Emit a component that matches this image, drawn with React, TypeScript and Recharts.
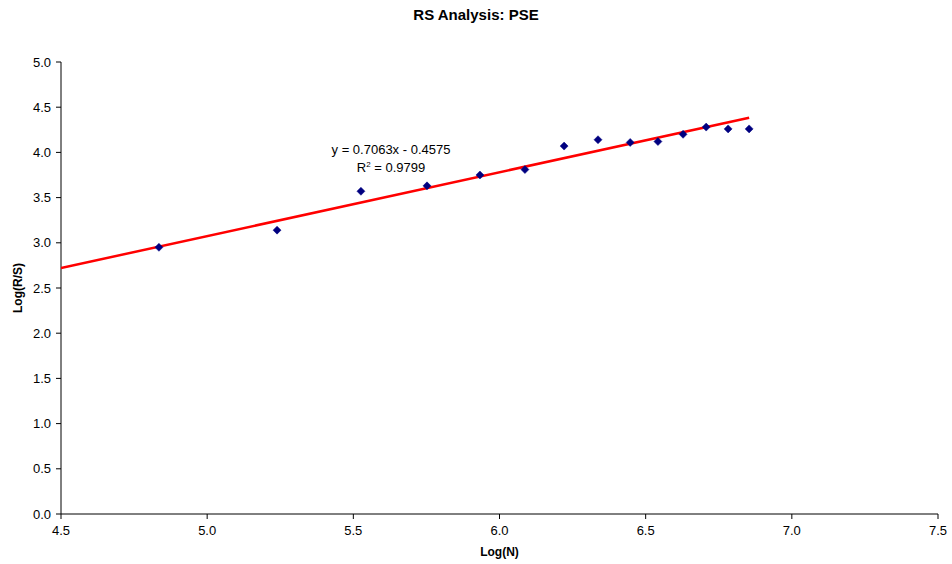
import { ScatterChart, Scatter, XAxis, YAxis, Label } from "recharts";

// Observed (Log(N), Log(R/S)) pairs
const logN = [4.835, 5.239, 5.526, 5.752, 5.933, 6.087, 6.221, 6.337, 6.447, 6.542, 6.628, 6.707, 6.782, 6.854];
const logRS = [2.95, 3.14, 3.57, 3.63, 3.75, 3.81, 4.07, 4.14, 4.11, 4.12, 4.2, 4.28, 4.26, 4.26];

// Trend line end points as drawn
const trendX = [4.5, 6.854];
const trendY = [2.721, 4.384];

const xTicks = [4.5, 5.0, 5.5, 6.0, 6.5, 7.0, 7.5];
const yTicks = [0, 0.5, 1.0, 1.5, 2.0, 2.5, 3.0, 3.5, 4.0, 4.5, 5.0];

const points = logN.map((x, i) => ({ x, y: logRS[i] }));
const trend = trendX.map((x, i) => ({ x, y: trendY[i] }));

const font = "'Liberation Sans', Arial, sans-serif";

const Diamond = (props: any) => {
  const { cx, cy } = props;
  if (cx == null || cy == null) return null;
  const r = 4;
  return (
    <polygon
      points={`${cx},${cy - r} ${cx + r},${cy} ${cx},${cy + r} ${cx - r},${cy}`}
      fill="#000080"
      stroke="#000080"
      strokeWidth={0.5}
    />
  );
};

export default function App() {
  return (
    <div style={{ position: "absolute", left: 0, top: 0, width: 952, height: 564, background: "#fff", fontFamily: font }}>
      <div style={{ position: "absolute", top: 6, width: 952, textAlign: "center", fontWeight: "bold", fontSize: 15, color: "#000" }}>
        RS Analysis: PSE
      </div>
      <ScatterChart width={952} height={564} margin={{ top: 62, right: 14, bottom: 20, left: 0 }}>
        <XAxis
          type="number"
          dataKey="x"
          domain={[4.5, 7.5]}
          ticks={xTicks}
          tickFormatter={(v: number) => v.toFixed(1)}
          height={30}
          stroke="#000"
          tick={{ fill: "#000", fontSize: 13, fontFamily: font }}
          tickSize={5}
          tickMargin={7}
          allowDataOverflow
        >
          <Label value="Log(N)" position="insideBottom" offset={-12} style={{ fontWeight: "bold", fontSize: 12, fill: "#000", fontFamily: font }} />
        </XAxis>
        <YAxis
          type="number"
          dataKey="y"
          domain={[0, 5]}
          ticks={yTicks}
          tickFormatter={(v: number) => v.toFixed(1)}
          width={61}
          stroke="#000"
          tick={{ fill: "#000", fontSize: 13, fontFamily: font }}
          tickSize={5}
          tickMargin={5}
          allowDataOverflow
        >
          <Label value="Log(R/S)" angle={-90} position="insideLeft" offset={18} style={{ fontWeight: "bold", fontSize: 12, fill: "#000", fontFamily: font, textAnchor: "middle" }} />
        </YAxis>
        <Scatter
          data={trend}
          line={{ stroke: "#FF0000", strokeWidth: 2.5 }}
          shape={() => null}
          isAnimationActive={false}
        />
        <Scatter data={points} shape={Diamond} isAnimationActive={false} />
      </ScatterChart>
      <div style={{ position: "absolute", left: 291, top: 141, width: 200, textAlign: "center", fontSize: 13, color: "#000", lineHeight: "18px" }}>
        <div>y = 0.7063x - 0.4575</div>
        <div>
          R<sup style={{ fontSize: 8, verticalAlign: "top", lineHeight: "12px" }}>2</sup> = 0.9799
        </div>
      </div>
    </div>
  );
}
